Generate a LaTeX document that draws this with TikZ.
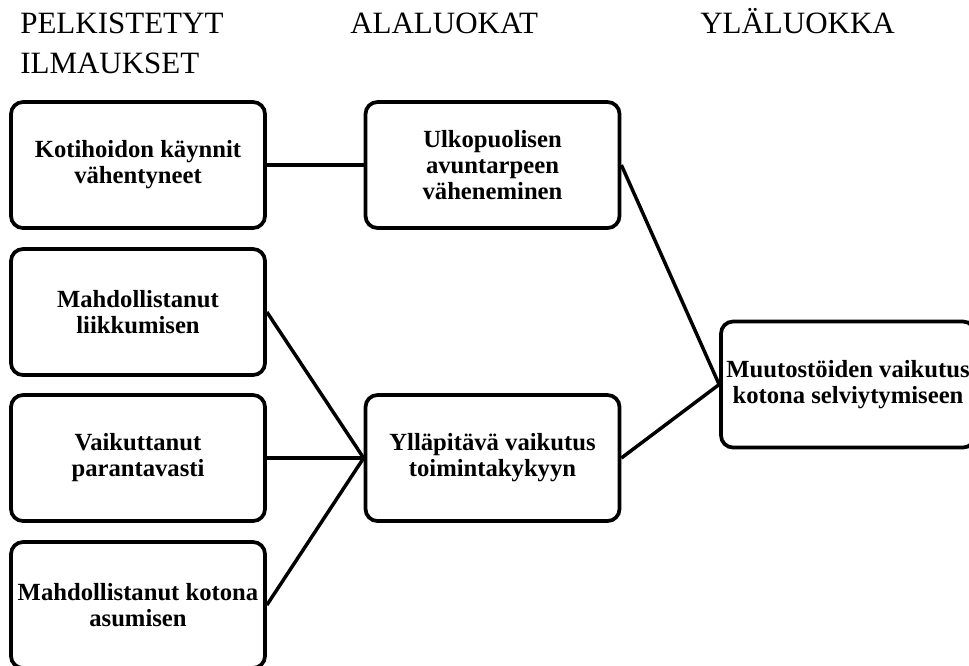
\documentclass[tikz,border=0pt]{standalone}
\usepackage{fontspec}
\setmainfont{Liberation Serif}
\tikzset{
  catbox/.style={draw, line width=2.8pt, rounded corners=9pt, fill=white,
    minimum width=190.5pt, minimum height=94.5pt, inner sep=0pt, align=center,
    font=\fontsize{18.5pt}{19.5pt}\selectfont\bfseries},
  hdr/.style={anchor=base west, inner sep=0pt, font=\fontsize{23.25pt}{30pt}\selectfont},
  link/.style={line width=2.6pt}
}
\begin{document}
\begin{tikzpicture}[x=0.75pt, y=-0.75pt]
\useasboundingbox (0,0) rectangle (969,665);
\clip (0,0) rectangle (969,665);
\node[hdr] (h1) at (20,33) {PELKISTETYT};
\node[hdr] (h1b) at (20,73) {ILMAUKSET};
\node[hdr] (h2) at (350,33) {ALALUOKAT};
\node[hdr] (h3) at (700,33) {YLÄLUOKKA};

\node[catbox] (k1) at (138,165) {Kotihoidon käynnit\\vähentyneet};
\node[catbox] (k2) at (138,312) {Mahdollistanut\\liikkumisen};
\node[catbox] (k3) at (138,458) {Vaikuttanut\\parantavasti};
\node[catbox] (k4) at (138,605) {Mahdollistanut kotona\\asumisen};
\node[catbox] (a1) at (492.5,165) {Ulkopuolisen\\avuntarpeen\\väheneminen};
\node[catbox] (a2) at (492.5,458) {Ylläpitävä vaikutus\\toimintakykyyn};
\node[catbox] (y1) at (848,384.5) {Muutostöiden vaikutus\\kotona selviytymiseen};

\draw[link] (k1.east) -- (a1.west);
\draw[link] (a1.east) -- (y1.west);
\draw[link] (a2.east) -- (y1.west);
\draw[link] (k2.east) -- (a2.west);
\draw[link] (k3.east) -- (a2.west);
\draw[link] (k4.east) -- (a2.west);
\end{tikzpicture}
\end{document}
